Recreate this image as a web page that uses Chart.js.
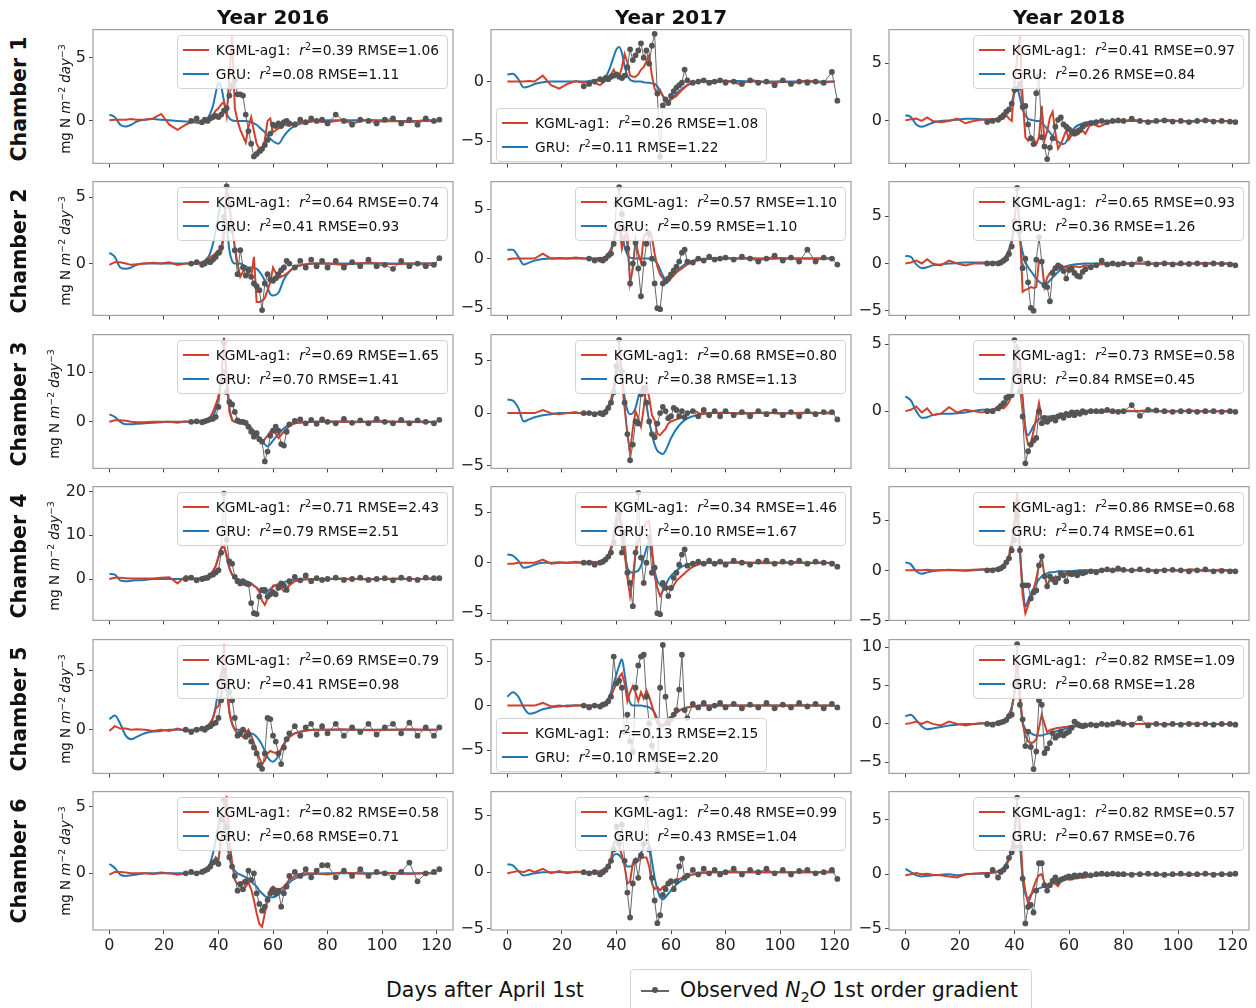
<!DOCTYPE html>
<html>
<head>
<meta charset="utf-8">
<script src="https://cdn.jsdelivr.net/npm/chart.js@4.4.1/dist/chart.umd.min.js"></script>
<style>
  body { margin: 0; background: #fff; font-family: "DejaVu Sans", sans-serif; color: #111; }
  #fig { position: relative; width: 1256px; height: 1008px; overflow: hidden; background: #fff; }
  #fig canvas { position: absolute; }
  .coltitle { position: absolute; top: 4px; width: 360px; text-align: center; font-weight: bold; font-size: 20px; line-height: 26px; }
  .rowlab { position: absolute; width: 139px; height: 26px; line-height: 26px; text-align: center;
            font-weight: bold; font-size: 20.5px; transform: rotate(-90deg); }
  .ylab { position: absolute; width: 139px; height: 18px; line-height: 18px; text-align: center;
          font-size: 13.4px; transform: rotate(-90deg); white-space: nowrap; }
  .ylab sup { font-size: 0.7em; vertical-align: 0.5em; line-height: 0; }
  .leg { position: absolute; z-index: 5; background: rgba(255,255,255,0.8); border: 1px solid #d4d4d4;
         border-radius: 4px; padding: 2px 8px 2px 5px; font-size: 13.8px; white-space: nowrap; }
  .leg .lr { height: 24px; line-height: 24px; }
  .leg .sw { display: inline-block; width: 26px; height: 2px; margin-right: 7px; vertical-align: middle; position: relative; top: -1px; }
  .leg sup { font-size: 0.7em; vertical-align: 0.5em; line-height: 0; }
  #xlab { position: absolute; left: 335px; top: 977px; width: 300px; text-align: center; font-size: 20.5px; line-height: 26px; }
  #blg { position: absolute; left: 630px; top: 969px; width: 400px; height: 60px; border: 1px solid #d4d4d4; border-radius: 4px; background: #fff; }
  #blg .ln { position: absolute; left: 10px; top: 20px; width: 28px; height: 1.5px; background: #666; }
  #blg .dot { position: absolute; left: 21px; top: 17px; width: 6px; height: 6px; border-radius: 3px; background: #555; }
  #blg .tx { position: absolute; left: 49px; top: 7px; font-size: 20.5px; line-height: 26px; white-space: nowrap; }
  #blg sub { font-size: 0.7em; line-height: 0; }
</style>
</head>
<body>
<div id="fig"></div>
<script>
// ---- data ----
const years = ['2016', '2017', '2018'];
const chambers = [1, 2, 3, 4, 5, 6];
const xTickVals = [0, 20, 40, 60, 80, 100, 120];

// days at which the model curves were read
const modelDays = [0, 2, 4, 6, 8, 10,
  13, 16, 19, 22, 25, 28, 31, 34,
  36, 37, 38, 39, 40, 41, 42, 43, 44, 45, 46, 47,
  48, 49, 50, 51, 52, 53, 54, 55, 56, 57, 58, 59, 60,
  62, 64, 66, 68, 71, 75, 80, 85, 90, 95, 100, 105, 110, 115, 120];
// days of the observations
const obsDays = [26, 28, 30, 32, 34,
  35, 36, 37, 38, 39, 40, 41, 42, 43, 44, 45, 46,
  47, 48, 49, 50, 51, 52, 53, 54, 55, 56, 57, 58,
  59, 60, 61, 62, 63, 64, 65, 66,
  68, 70, 72, 74, 76, 78, 80,
  83, 86, 89, 92, 95, 98, 101, 104, 107, 110, 113, 116, 119, 121];

// Chamber 1
const kgml_2016_c1 = [0.05, 0.1, 0.1, 0.1, 0.15, 0.1,
  0.1, 0.2, 0.55, -0.3, -0.7, -0.3, 0.0, -0.1,
  0.1, 0.3, 0.5, 0.8, 1.0, 1.3, 1.5, 0.4, 3.5, 6.7, 1.0, 0.0,
  -0.7, -1.2, -1.7, -0.5, 0.3, -0.8, -1.8, -2.2, -2.4, -1.5, 0.0, 0.2, -0.9,
  -0.6, -0.3, -0.4, -0.1, -0.2, 0.0, -0.1, 0.05, -0.15, 0.1, -0.05, 0.0, -0.1, 0.05, 0.0];
const gru_2016_c1 = [0.5, 0.3, -0.3, -0.45, -0.3, -0.05,
  0.1, 0.15, 0.1, 0.05, 0.0, -0.05, -0.1, -0.2,
  0.2, 0.6, 1.2, 2.2, 3.0, 2.7, 1.6, 0.6, 0.2, 0.05, 0.0, 0.0,
  0.0, 0.0, 0.0, -0.05, -0.1, -0.2, -0.3, -0.5, -0.7, -0.9, -1.2, -1.4, -1.6,
  -1.8, -1.2, -0.7, -0.4, -0.15, 0.0, 0.05, 0.05, 0.05, 0.05, 0.05, 0.0, 0.0, 0.0, 0.0];
const obs_2016_c1 = [null, null, 0.0, 0.2, -0.1,
  0.1, 0.0, 0.2, 0.3, 0.4, 0.3, 0.5, 0.8, 1.0, 2.0, 2.8, 3.2,
  2.1, 2.1, 2.0, 0.5, -0.8, -1.8, -2.8, -2.6, -2.4, -2.2, -1.9, -1.5,
  -1.0, -0.3, -0.4, -0.2, -0.4, -0.1, 0.0, -0.2,
  -0.3, 0.1, -0.1, 0.2, 0.0, 0.1, -0.2,
  0.5, 0.0, -0.3, 0.1, 0.0, -0.2, 0.1, 0.2, -0.2, 0.1, -0.3, 0.2, 0.0, 0.1];

const kgml_2017_c1 = [0.0, 0.0, 0.0, 0.0, 0.05, 0.0,
  0.5, -0.3, -0.6, -0.2, 0.05, -0.1, 0.0, -0.3,
  0.1, 0.3, 0.6, 1.0, 0.5, 0.4, 1.2, 2.3, 1.6, 0.5, 0.4, 0.4,
  0.6, 1.0, 1.2, 1.7, 2.2, 0.5, -0.6, -1.0, -0.7, -1.2, -1.6, -1.8, -1.5,
  -1.2, -0.7, -0.3, -0.1, 0.1, -0.1, 0.1, -0.2, 0.1, -0.1, 0.0, -0.1, 0.1, -0.1, 0.0];
const gru_2017_c1 = [0.6, 0.65, 0.2, -0.5, -0.4, -0.2,
  -0.05, 0.0, 0.0, 0.0, 0.0, 0.0, 0.1, 0.2,
  0.4, 0.8, 1.4, 2.1, 2.7, 2.9, 2.4, 1.3, 0.5, 0.15, 0.05, 0.0,
  0.0, 0.0, -0.05, -0.1, -0.1, -0.15, -0.2, -0.4, -0.8, -1.2, -1.5, -1.6, -1.5,
  -1.0, -0.6, -0.3, -0.1, 0.0, 0.05, 0.05, 0.05, 0.0, 0.0, 0.0, 0.0, 0.0, 0.0, 0.0];
const obs_2017_c1 = [null, -0.4, -0.2, 0.0, 0.2,
  0.1, 0.3, 0.2, 0.4, 0.5, 0.6, 0.4, 0.3, 0.5, 1.2, 2.7, 1.8,
  2.2, 2.6, 3.2, 2.0, 2.6, 1.5, 3.0, 4.0, -1.0, -6.3, -2.0, -1.5,
  -1.8, -1.2, -0.8, -0.5, -0.3, -0.1, 1.0, 0.1,
  -0.1, 0.0, 0.1, -0.1, 0.0, 0.1, -0.1,
  0.0, -0.2, 0.1, -0.1, 0.0, -0.3, 0.1, -0.2, 0.0, -0.1, 0.0, -0.1, 0.8, -1.6];

const kgml_2018_c1 = [0.05, 0.15, 0.2, 0.0, 0.3, 0.0,
  -0.1, 0.0, 0.2, -0.2, 0.0, 0.1, 0.15, 0.2,
  0.2, 0.5, 0.2, 0.0, 3.3, 5.5, 7.4, 2.0, -1.4, -1.7, -1.3, -1.5,
  -2.0, -1.4, 1.3, -1.7, -0.9, 0.3, 0.8, -1.0, -2.4, -2.0, -1.4, -0.8, -1.6,
  -0.8, -0.6, -1.1, -0.2, -0.5, -0.1, 0.0, 0.05, -0.1, 0.1, 0.0, -0.1, 0.1, -0.05, 0.0];
const gru_2018_c1 = [0.5, 0.35, -0.3, -0.5, -0.35, -0.15,
  0.0, 0.05, 0.1, 0.2, 0.2, 0.15, 0.1, 0.2,
  0.4, 0.7, 1.0, 1.6, 2.4, 2.8, 2.0, 1.0, 0.5, 0.2, 0.1, 0.05,
  0.0, 0.0, -0.2, -0.4, -0.7, -1.0, -1.3, -1.6, -1.8, -1.95, -2.0, -1.8, -1.3,
  -0.6, -0.3, -0.15, -0.05, 0.0, 0.0, 0.0, 0.0, 0.0, 0.0, 0.0, 0.0, 0.0, 0.0, 0.0];
const obs_2018_c1 = [null, null, -0.1, 0.0, 0.1,
  0.3, 0.5, 0.8, 1.0, 1.5, 2.7, 2.8, 3.2, 1.2, 1.3, -0.3, -1.5,
  -2.0, 2.4, 3.9, -1.4, -2.2, -3.3, -2.3, -1.5, -0.5, 0.1, 0.3, -0.3,
  -0.5, -0.7, -0.9, -1.1, -1.0, -0.8, -0.5, -0.3,
  -0.2, -0.1, 0.0, -0.1, 0.0, 0.05, 0.0,
  0.2, 0.0, -0.1, 0.0, 0.05, -0.05, 0.0, -0.1, 0.0, 0.05, -0.05, 0.0, -0.05, -0.1];

// Chamber 2
const kgml_2016_c2 = [-0.1, 0.1, 0.1, 0.0, -0.1, -0.05,
  0.0, 0.05, 0.0, 0.1, -0.1, 0.0, 0.0, 0.1,
  0.3, 0.5, 0.6, 0.8, 1.0, 0.8, 2.0, 5.7, 4.5, 2.5, 1.3, 0.0,
  -1.0, -0.6, -0.4, -0.8, -1.0, 0.5, -2.9, -2.9, -2.8, -2.6, -2.0, -1.4, -0.3,
  -1.1, -0.9, -0.6, -0.2, -0.1, 0.0, 0.0, -0.1, 0.0, 0.05, 0.0, -0.05, 0.0, 0.0, 0.0];
const gru_2016_c2 = [0.8, 0.5, -0.3, -0.4, -0.3, -0.1,
  0.0, 0.0, 0.0, 0.0, 0.0, 0.0, 0.0, 0.1,
  0.4, 0.8, 1.5, 2.5, 3.6, 4.5, 4.3, 3.0, 1.0, 0.2, 0.0, 0.0,
  0.0, -0.1, -0.2, -0.3, -0.3, -0.35, -0.4, -0.6, -0.9, -1.3, -1.8, -2.3, -2.4,
  -2.2, -1.2, -0.6, -0.3, -0.1, 0.0, 0.0, 0.0, 0.0, 0.0, 0.0, 0.0, 0.0, 0.0, 0.0];
const obs_2016_c2 = [null, null, 0.0, 0.1, -0.1,
  0.0, 0.2, 0.1, 0.3, 0.5, 0.8, 1.2, 3.5, 5.8, 4.3, 2.5, 1.0,
  -0.8, 1.0, -0.3, -0.9, -0.5, -1.0, -1.5, -1.7, -2.0, -3.5, -1.5, -0.8,
  -1.2, -1.3, -1.1, -0.8, -0.5, -0.3, 0.2, 0.0,
  -0.3, 0.2, -0.3, 0.3, -0.2, 0.2, -0.3,
  0.2, -0.3, 0.1, -0.2, 0.3, -0.2, -0.1, -0.4, 0.2, -0.2, 0.0, -0.2, -0.1, 0.4];

const kgml_2017_c2 = [-0.1, 0.0, 0.0, 0.0, 0.0, 0.0,
  0.5, 0.0, 0.05, 0.0, 0.1, 0.0, 0.0, 0.0,
  0.2, 0.5, 0.8, 1.6, 2.8, 3.4, 1.0, 2.2, 2.5, -2.5, -1.0, 1.9,
  0.5, -0.4, 2.2, 2.6, 2.8, 2.2, 0.5, -0.8, -1.6, -2.0, -2.3, -2.3, -2.0,
  -1.4, -1.0, -0.6, -0.3, -0.1, 0.0, 0.05, 0.0, 0.0, -0.05, 0.05, 0.0, 0.0, 0.0, 0.0];
const gru_2017_c2 = [0.9, 0.9, 0.2, -0.6, -0.4, -0.2,
  -0.05, 0.0, 0.0, 0.0, 0.0, 0.0, 0.0, 0.0,
  0.2, 0.5, 1.0, 1.8, 2.8, 3.1, 2.4, 1.2, 0.4, 0.1, 0.05, 0.0,
  0.0, 0.0, 0.0, 0.0, 0.0, 0.0, -0.2, -0.5, -1.1, -1.7, -2.1, -2.2, -1.9,
  -1.3, -0.8, -0.4, -0.2, -0.05, 0.0, 0.0, 0.0, 0.0, 0.0, 0.0, 0.0, 0.0, 0.0, 0.0];
const obs_2017_c2 = [null, null, 0.0, -0.2, -0.1,
  -0.2, 0.0, 0.3, 0.5, 1.5, 5.5, 7.2, 4.5, 3.0, 1.0, -2.5, -0.5,
  1.6, -1.0, -3.8, -0.5, 1.5, 2.5, 0.0, -2.5, -5.0, -5.1, -2.5, -2.3,
  -2.0, -1.6, -1.2, -0.8, -0.3, 0.6, 0.9, -0.3,
  -0.4, 0.0, -0.2, 0.2, -0.1, 0.0, 0.1,
  -0.1, 0.2, 0.0, -0.3, 0.0, 0.3, -0.2, 0.1, -0.3, 0.9, -0.3, 0.1, 0.0, -0.6];

const kgml_2018_c2 = [0.0, 0.1, 0.3, 0.0, 0.45, 0.0,
  -0.2, 0.3, 0.0, -0.2, 0.0, 0.0, 0.0, 0.1,
  0.3, 0.6, 1.2, 2.3, 4.5, 7.2, 3.5, -3.0, -2.8, -2.7, -2.5, -2.6,
  -2.5, 0.3, 0.2, -2.5, -1.5, -1.0, -0.7, -0.6, -0.5, -0.5, -0.4, -0.4, -0.4,
  -0.3, -0.4, -0.2, -0.3, -0.1, -0.05, 0.0, 0.0, -0.05, 0.05, -0.1, 0.0, 0.05, 0.0, 0.0];
const gru_2018_c2 = [0.8, 0.7, -0.1, -0.5, -0.4, -0.2,
  -0.1, 0.0, 0.05, 0.1, 0.1, 0.1, 0.1, 0.1,
  0.5, 0.9, 1.5, 2.5, 3.5, 3.4, 2.5, 1.2, 0.2, -0.4, -0.8, -1.2,
  -1.6, -1.9, -2.1, -2.2, -2.1, -1.8, -1.5, -1.2, -0.9, -0.6, -0.4, -0.3, -0.2,
  -0.1, -0.05, 0.0, 0.0, 0.0, 0.0, 0.0, 0.0, 0.0, 0.0, 0.0, 0.0, 0.0, 0.0, 0.0];
const obs_2018_c2 = [null, null, 0.0, 0.0, 0.0,
  0.1, 0.3, 0.5, 1.0, 1.8, 4.5, 8.0, 3.5, -0.5, 0.5, -2.0, -4.7,
  -5.0, 0.4, 2.8, 0.2, -2.3, -2.5, -4.0, -1.0, -0.5, -0.2, -0.4, -0.8,
  -1.6, -0.7, -0.6, -1.0, -1.3, -1.4, -0.9, -0.6,
  -0.4, -0.2, 0.3, -0.1, 0.0, -0.1, 0.0,
  -0.1, 0.45, 0.0, -0.1, 0.0, -0.1, 0.0, -0.05, 0.0, -0.1, 0.0, -0.05, -0.1, -0.2];

// Chamber 3
const kgml_2016_c3 = [0.0, 0.3, 0.3, 0.2, 0.0, -0.1,
  -0.1, 0.0, 0.0, 0.0, -0.2, 0.1, -0.1, 0.3,
  0.5, 1.0, 2.0, 3.5, 5.0, 8.0, 17.0, 10.0, 2.0, 0.3, 0.0, 0.0,
  0.0, 0.0, -0.5, -1.3, -1.3, -2.5, -3.0, -3.8, -4.2, -3.5, -2.8, -2.0, -1.5,
  -3.3, -2.0, -0.8, -0.3, -0.1, 0.0, 0.1, 0.0, -0.1, 0.0, 0.1, 0.0, 0.0, -0.1, 0.0];
const gru_2016_c3 = [1.5, 1.0, 0.0, -0.5, -0.5, -0.4,
  -0.3, -0.2, -0.1, 0.0, 0.0, 0.0, 0.0, 0.1,
  0.3, 0.6, 1.2, 2.5, 5.0, 8.5, 10.5, 8.0, 3.0, 0.5, 0.0, -0.2,
  -0.3, -0.4, -0.5, -0.8, -1.2, -1.8, -2.5, -3.2, -4.0, -4.5, -5.0, -4.5, -3.8,
  -2.5, -1.3, -0.6, -0.3, -0.1, 0.0, 0.0, 0.0, 0.0, 0.0, 0.0, 0.0, 0.0, 0.0, 0.0];
const obs_2016_c3 = [null, null, 0.0, 0.1, -0.1,
  0.1, 0.3, 0.5, 0.6, 1.0, 3.0, 8.0, 16.0, 6.0, 4.0, 3.5, 2.0,
  0.3, 0.0, 0.0, -0.2, -1.0, -2.0, -3.0, -2.3, -3.5, -4.0, -8.0, -6.0,
  -2.8, -1.8, -1.0, -1.8, -4.5, -4.8, -2.0, -0.5,
  0.2, 0.5, -0.3, 0.4, -0.4, 0.5, 0.0,
  -0.3, 0.6, -0.2, 0.3, -0.3, 0.6, 0.0, -0.3, 0.4, -0.3, 0.3, 0.0, -0.3, 0.4];

const kgml_2017_c3 = [0.0, 0.0, 0.0, 0.0, 0.0, 0.0,
  0.3, 0.0, -0.1, 0.0, 0.1, -0.1, 0.0, 0.0,
  0.3, 0.7, 1.3, 2.5, 4.5, 6.0, 3.0, 0.5, -2.0, -3.6, -1.5, 0.2,
  -0.5, -1.3, 0.5, 2.7, 1.5, -0.2, -0.7, -2.0, -2.1, -1.8, -1.5, -1.0, -0.8,
  -0.6, -0.4, -0.1, 0.3, -0.1, 0.0, 0.05, -0.05, 0.0, 0.05, -0.05, 0.0, 0.05, 0.0, -0.05];
const gru_2017_c3 = [1.3, 1.2, 0.5, -0.8, -0.6, -0.4,
  -0.2, -0.1, 0.0, 0.0, 0.0, 0.0, 0.0, 0.0,
  0.2, 0.5, 1.0, 2.0, 3.5, 4.5, 3.5, 1.5, 0.3, -0.1, 0.0, 0.5,
  1.5, 2.2, 2.0, 0.8, -0.8, -2.0, -3.0, -3.6, -3.8, -3.9, -3.6, -3.0, -2.4,
  -1.5, -0.9, -0.5, -0.3, -0.1, 0.0, 0.0, 0.0, 0.0, 0.0, 0.0, 0.0, 0.0, 0.0, 0.0];
const obs_2017_c3 = [null, 0.0, 0.0, -0.1, 0.0,
  -0.1, 0.1, 0.5, 1.0, 2.0, 4.5, 7.0, 4.0, 1.0, -2.0, -4.5, -3.0,
  -0.8, -1.0, 1.8, 2.4, 1.0, -0.8, -2.0, -2.3, -1.0, 0.0, 0.6, 0.2,
  -0.5, -0.3, 0.5, 0.3, -0.3, 0.2, -0.4, 0.0,
  0.2, -0.3, 0.3, -0.2, 0.2, -0.3, 0.2,
  -0.2, 0.1, -0.3, 0.2, -0.1, 0.2, -0.2, 0.1, -0.3, 0.2, -0.1, 0.1, 0.1, -0.6];

const kgml_2018_c3 = [0.0, 0.1, 0.35, -0.1, 0.2, -0.3,
  -0.2, 0.3, -0.1, 0.1, 0.0, -0.1, 0.0, 0.3,
  0.2, 0.4, 0.7, 1.2, 3.0, 4.5, 3.8, 0.5, -1.5, -2.5, -2.4, -1.5,
  -0.5, 0.6, -0.5, -0.9, -0.8, -0.6, -0.5, -0.4, -0.3, -0.3, -0.2, -0.2, -0.2,
  0.0, -0.1, 0.0, 0.1, -0.1, 0.0, 0.05, 0.0, 0.1, -0.05, 0.0, 0.05, -0.05, 0.0, 0.0];
const gru_2018_c3 = [1.1, 0.8, 0.0, -0.5, -0.45, -0.3,
  -0.2, -0.2, -0.15, -0.1, 0.0, 0.1, 0.1, 0.2,
  0.4, 0.7, 1.1, 1.8, 3.5, 5.0, 3.5, 1.0, -1.2, -1.8, -1.5, -1.1,
  -0.8, -0.6, -0.5, -0.45, -0.4, -0.4, -0.35, -0.35, -0.3, -0.3, -0.3, -0.25, -0.25,
  -0.2, -0.15, -0.1, -0.05, 0.0, 0.0, 0.0, 0.0, 0.0, 0.0, 0.0, 0.0, 0.0, 0.0, 0.0];
const obs_2018_c3 = [null, null, 0.0, 0.0, 0.2,
  0.4, 0.6, 1.0, 1.1, 1.2, 5.3, 3.0, 1.5, -0.4, -3.9, -3.0, -2.5,
  -2.2, -2.0, 0.0, -0.9, -0.5, -0.8, -0.6, -0.5, -0.7, -0.4, -0.3, -0.5,
  -0.2, -0.3, -0.1, -0.3, -0.1, -0.2, 0.0, -0.1,
  0.0, 0.0, 0.0, 0.1, 0.0, -0.05, 0.0,
  0.45, -0.35, 0.1, 0.05, 0.0, -0.05, 0.0, 0.0, -0.05, 0.0, 0.0, -0.05, 0.0, -0.05];

// Chamber 4
const kgml_2016_c4 = [0.0, 0.3, 0.3, 0.2, 0.1, 0.1,
  0.1, 0.1, 0.3, 0.4, -1.0, 0.7, 0.0, 0.2,
  0.5, 1.0, 1.8, 3.0, 5.0, 7.0, 7.6, 5.5, 2.5, 1.0, 0.3, -0.3,
  -0.5, -0.8, -0.7, -0.9, -1.2, -1.6, -2.0, -3.0, -5.0, -5.9, -4.5, -3.0, -1.5,
  -1.2, -2.8, -1.5, -0.5, -0.1, 0.0, 0.0, 0.1, 0.0, -0.1, 0.0, 0.1, 0.0, 0.0, 0.0];
const gru_2016_c4 = [1.2, 1.0, -0.3, -0.5, -0.4, -0.3,
  -0.2, 0.0, 0.0, 0.0, 0.0, 0.0, 0.1, 0.2,
  0.5, 1.0, 1.8, 3.0, 5.0, 7.0, 7.3, 5.0, 2.5, 1.0, 0.3, 0.0,
  -0.2, -0.3, -0.5, -0.7, -1.0, -1.5, -2.0, -2.6, -3.0, -3.2, -2.8, -2.3, -1.8,
  -1.2, -0.7, -0.4, -0.2, -0.1, 0.0, 0.0, 0.0, 0.0, 0.0, 0.0, 0.0, 0.0, 0.0, 0.0];
const obs_2016_c4 = [null, 0.0, 0.3, -0.3, 0.0,
  0.2, 0.3, 0.8, 1.0, 1.5, 2.0, 6.0, 19.5, 9.0, 4.0, 3.5, 0.5,
  -0.5, -1.0, -0.5, -1.0, -1.2, -5.5, -7.8, -8.0, -4.0, -2.5, -2.5, -4.0,
  -3.5, -3.0, -3.5, -2.0, -1.0, -1.5, -2.5, -0.5,
  0.5, -0.3, 0.8, -0.5, 0.2, -0.2, 0.0,
  0.3, -0.2, 0.0, 0.3, -0.2, 0.0, 0.2, -0.3, 0.3, 0.0, -0.2, 0.3, 0.2, 0.2];

const kgml_2017_c4 = [-0.1, -0.1, 0.0, 0.0, 0.0, 0.0,
  0.3, -0.1, 0.0, 0.0, 0.1, 0.0, 0.1, 0.0,
  0.3, 0.7, 1.5, 2.8, 4.5, 5.0, 3.5, 1.0, -1.5, -3.3, -1.5, 1.0,
  2.0, 3.0, 3.5, 4.0, 4.1, 1.5, -1.3, -2.5, -3.3, -2.8, -2.2, -2.5, -2.7,
  -1.8, -1.3, -0.8, -0.4, -0.1, 0.0, 0.0, 0.05, 0.0, -0.05, 0.0, 0.05, -0.05, 0.0, -0.05];
const gru_2017_c4 = [0.8, 0.7, 0.2, -0.5, -0.4, -0.2,
  0.0, 0.0, 0.05, 0.0, 0.0, 0.0, 0.05, 0.1,
  0.3, 0.7, 1.5, 2.5, 3.8, 4.4, 3.0, 1.0, -0.5, -0.9, -1.0, -0.9,
  -0.8, -0.3, 0.5, 1.4, 2.1, 0.8, -0.8, -1.8, -2.2, -2.4, -2.2, -1.7, -1.3,
  -0.8, -0.4, -0.2, -0.05, 0.0, 0.0, 0.0, 0.0, 0.0, 0.0, 0.0, 0.0, 0.0, 0.0, 0.0];
const obs_2017_c4 = [null, 0.0, 0.0, -0.2, 0.0,
  0.1, 0.3, 0.6, 1.0, 2.0, 3.5, 5.0, 1.0, 3.0, -1.0, -2.0, -4.3,
  1.0, 6.9, 0.5, -2.0, 0.0, 2.5, -1.0, -0.5, -5.0, -5.1, -2.0, -2.5,
  -3.3, -2.5, -1.5, -1.0, -0.2, 0.8, 1.3, -0.3,
  -0.1, 0.1, -0.1, 0.2, -0.1, 0.1, -0.2,
  0.2, 0.0, -0.2, 0.1, 0.2, -0.1, 0.1, 0.0, 0.2, -0.1, 0.1, 0.0, -0.1, -0.4];

const kgml_2018_c4 = [0.0, 0.0, 0.0, 0.0, 0.05, 0.0,
  0.0, 0.05, 0.0, 0.0, 0.05, 0.1, 0.1, 0.2,
  0.5, 0.9, 1.5, 3.0, 5.0, 7.8, 2.0, -2.5, -4.3, -3.5, -2.8, -2.0,
  -0.8, 0.5, 1.3, -0.5, -1.5, -1.0, -0.9, -0.6, -0.8, -0.5, -0.6, -0.2, -0.1,
  -0.2, -0.15, -0.2, -0.1, 0.0, -0.05, 0.0, 0.0, -0.05, 0.05, -0.05, 0.1, -0.1, 0.05, 0.0];
const gru_2018_c4 = [0.8, 0.6, -0.1, -0.35, -0.2, -0.1,
  0.0, 0.0, 0.0, -0.05, 0.0, 0.05, 0.1, 0.2,
  0.4, 0.8, 1.3, 2.5, 4.5, 6.0, 2.0, -1.5, -3.6, -3.0, -2.4, -1.8,
  -1.3, -0.9, -0.6, -0.4, -0.3, -0.2, -0.2, -0.15, -0.1, -0.1, -0.1, -0.1, -0.1,
  -0.05, 0.0, 0.0, 0.0, 0.0, 0.0, 0.0, 0.0, 0.0, 0.0, 0.0, 0.0, 0.0, 0.0, 0.0];
const obs_2018_c4 = [null, null, 0.0, 0.0, 0.1,
  0.2, 0.4, 0.8, 1.2, 2.0, 3.0, 5.5, 2.0, -1.5, -1.5, -1.5, -2.8,
  -2.2, -2.0, 0.5, 1.4, -0.6, -1.6, -0.6, -0.9, -1.2, -0.8, -0.3, -0.5,
  -1.1, -0.3, -0.4, -0.3, -0.5, -0.2, -0.3, -0.2,
  -0.1, -0.2, 0.0, 0.1, 0.0, 0.2, 0.05,
  0.0, 0.1, 0.0, -0.1, 0.0, 0.05, 0.0, -0.1, 0.0, 0.1, -0.1, -0.05, -0.1, -0.1];

// Chamber 5
const kgml_2016_c5 = [-0.1, 0.3, 0.1, 0.1, 0.0, 0.05,
  0.0, -0.1, 0.0, -0.1, 0.1, -0.1, 0.0, 0.1,
  0.3, 0.6, 1.0, 1.8, 2.0, 3.0, 7.2, 4.5, 1.5, 0.5, 0.0, -0.4,
  -0.5, -0.6, -0.3, 0.0, -0.5, -1.1, -1.8, -2.4, -2.9, -2.6, -2.0, -1.8, -1.9,
  -2.0, -1.2, -0.6, -0.3, -0.1, 0.0, 0.0, 0.05, 0.0, -0.05, 0.0, 0.0, 0.05, 0.0, 0.0];
const gru_2016_c5 = [0.9, 1.2, 0.5, -0.5, -0.8, -0.6,
  -0.3, -0.15, -0.1, 0.0, 0.0, 0.0, 0.0, 0.0,
  0.2, 0.5, 1.0, 2.0, 3.5, 4.8, 5.0, 3.5, 1.5, 0.5, 0.1, 0.0,
  0.0, -0.1, -0.1, -0.2, -0.3, -0.4, -0.6, -0.9, -1.3, -1.8, -2.3, -2.6, -2.7,
  -2.2, -1.2, -0.6, -0.3, -0.1, 0.0, 0.0, 0.0, 0.0, 0.0, 0.0, 0.0, 0.0, 0.0, 0.0];
const obs_2016_c5 = [null, 0.0, -0.2, 0.0, 0.1,
  0.0, 0.2, 0.3, 0.5, 0.6, 1.0, 2.5, 5.0, 3.5, 3.2, 2.5, 1.0,
  -0.5, -0.3, 0.0, -0.6, -0.4, -1.0, -1.5, -2.0, -3.0, -3.3, -2.0, 1.0,
  0.9, -0.5, -1.0, -2.0, -2.9, -1.5, -0.8, -0.3,
  0.3, -0.5, 0.2, 0.5, -0.4, 0.3, -0.3,
  0.5, -0.5, 0.2, -0.2, 0.5, -0.4, 0.2, 0.5, -0.3, 0.6, -0.5, 0.2, -0.5, 0.2];

const kgml_2017_c5 = [0.0, 0.0, 0.0, 0.0, 0.0, 0.0,
  0.3, -0.1, 0.0, -0.1, 0.05, 0.0, 0.0, 0.0,
  0.2, 0.5, 1.0, 1.8, 2.5, 3.2, 3.6, 2.5, 0.5, 1.5, 2.2, 1.5,
  0.5, 1.5, 0.8, 1.7, 1.0, 0.0, -1.0, -2.0, -2.4, -2.2, -1.8, -1.5, -1.3,
  -0.8, -0.4, -0.2, -0.1, 0.0, 0.0, 0.0, 0.0, 0.0, 0.0, 0.0, 0.0, 0.0, 0.0, 0.0];
const gru_2017_c5 = [1.0, 1.5, 1.0, -0.2, -0.9, -0.8,
  -0.4, -0.2, -0.1, 0.0, 0.0, 0.0, 0.0, 0.0,
  0.3, 0.8, 1.5, 2.5, 3.5, 4.5, 5.2, 3.5, 1.5, 0.3, 0.0, 0.0,
  0.0, 0.0, -0.05, -0.1, -0.2, -0.4, -0.8, -1.5, -2.0, -2.3, -2.1, -1.8, -1.4,
  -0.8, -0.4, -0.2, -0.1, 0.0, 0.0, 0.0, 0.0, 0.0, 0.0, 0.0, 0.0, 0.0, 0.0, 0.0];
const obs_2017_c5 = [null, 0.0, -0.2, 0.0, -0.1,
  0.1, 0.2, 0.5, 1.0, 5.5, 2.5, 2.8, 2.0, -3.0, -1.0, -4.0, -5.2,
  2.0, 4.5, 5.5, 5.7, 1.0, -2.0, -4.5, -6.0, -7.3, 2.0, 6.8, 1.0,
  -2.0, -1.5, -1.0, -0.5, 1.8, 5.7, -0.5, -1.4,
  0.2, -0.2, 0.3, -0.3, 0.0, 0.3, -0.2,
  0.2, -0.3, 0.1, -0.2, 0.3, -0.3, 0.1, -0.2, 0.3, -0.1, 0.2, -0.3, 0.2, -0.2];

const kgml_2018_c5 = [0.0, 0.1, 0.3, 0.0, 0.3, 0.0,
  -0.2, 0.3, 0.0, -0.2, 0.0, 0.1, 0.0, 0.1,
  0.3, 0.6, 1.0, 2.0, 4.0, 8.5, 4.0, 0.0, -1.5, -2.3, -2.5, -2.4,
  -2.0, -0.5, 1.2, 0.0, -1.1, -0.8, -0.7, -0.6, -0.5, -0.5, -0.4, -0.4, -0.3,
  -0.3, -0.3, -0.2, -0.1, -0.1, 0.0, -0.05, 0.0, 0.05, -0.1, 0.0, 0.05, 0.0, -0.05, 0.0];
const gru_2018_c5 = [1.0, 1.2, 0.5, -0.3, -0.7, -0.6,
  -0.4, -0.2, -0.1, 0.0, 0.0, 0.05, 0.1, 0.2,
  0.4, 0.8, 1.3, 2.2, 4.0, 6.0, 3.0, 0.3, -0.7, -1.0, -1.2, -1.4,
  -1.5, -1.5, -1.5, -1.4, -1.3, -1.2, -1.1, -1.0, -0.9, -0.8, -0.7, -0.6, -0.5,
  -0.35, -0.25, -0.15, -0.1, 0.0, 0.0, 0.0, 0.0, 0.0, 0.0, 0.0, 0.0, 0.0, 0.0, 0.0];
const obs_2018_c5 = [null, null, 0.0, -0.1, 0.1,
  0.2, 0.3, 0.5, 1.0, 1.2, 5.0, 10.4, 2.5, 0.6, -2.9, -1.0, -3.0,
  -5.9, -3.6, 3.1, 2.5, -3.8, -3.2, -2.5, -1.2, -1.8, -1.5, -1.0, -1.5,
  -1.2, -1.0, -0.5, 0.3, 0.0, -0.2, -0.3, -0.2,
  -0.1, -0.2, 0.0, -0.1, 0.0, 0.2, 0.0,
  -0.1, 0.75, -0.2, 0.0, -0.1, 0.0, -0.1, 0.0, -0.05, 0.0, -0.1, 0.0, 0.0, -0.1];

// Chamber 6
const kgml_2016_c6 = [-0.1, 0.1, 0.1, 0.05, 0.0, 0.0,
  0.0, -0.05, 0.0, 0.0, -0.1, 0.0, 0.0, 0.1,
  0.3, 0.5, 0.8, 1.2, 1.0, 2.5, 3.5, 5.8, 2.5, 0.8, -0.5, -0.8,
  -1.0, -0.6, -1.0, -0.7, -1.2, -2.0, -3.0, -3.8, -4.0, -3.0, -2.0, -1.2, -1.0,
  -1.3, -1.0, -0.5, -0.2, 0.0, 0.0, -0.1, 0.05, 0.0, -0.05, 0.05, 0.0, -0.05, 0.0, 0.0];
const gru_2016_c6 = [0.7, 0.4, -0.1, -0.2, -0.15, -0.1,
  0.0, 0.0, 0.05, 0.0, 0.0, 0.0, 0.0, 0.1,
  0.4, 0.8, 1.5, 2.5, 3.6, 4.3, 4.0, 2.5, 1.2, 0.5, 0.2, 0.0,
  -0.1, -0.2, -0.3, -0.4, -0.6, -0.8, -1.0, -1.3, -1.5, -1.7, -1.8, -1.8, -1.8,
  -1.6, -1.2, -0.7, -0.4, -0.15, -0.05, 0.0, 0.0, 0.0, 0.0, 0.0, 0.0, 0.0, 0.0, 0.0];
const obs_2016_c6 = [null, 0.0, 0.1, 0.0, 0.1,
  0.2, 0.3, 0.5, 0.8, 0.9, 0.7, 4.0, 5.5, 3.5, 1.2, 0.5, -0.2,
  -1.3, -0.8, -1.2, -0.6, 0.2, -0.5, 0.0, -1.5, -2.3, -2.8, -2.5, -2.0,
  -1.5, -1.2, -1.5, -1.3, -2.5, -1.5, -1.0, -0.2,
  0.1, -0.2, 0.3, -0.3, 0.2, 0.6, 0.6,
  -0.3, 0.2, -0.2, 0.3, -0.2, 0.1, 0.0, -0.3, 0.1, 0.8, -0.6, 0.0, 0.1, 0.3];

const kgml_2017_c6 = [-0.1, 0.0, 0.1, 0.0, 0.2, 0.0,
  0.3, -0.1, 0.1, -0.1, 0.05, 0.0, 0.0, 0.1,
  0.3, 0.6, 1.2, 2.5, 2.8, 2.2, 1.5, 0.5, -1.0, -0.8, 0.8, 1.2,
  1.0, 1.2, 1.3, 1.3, 0.5, -1.0, -1.5, -1.3, -1.6, -1.3, -1.2, -1.1, -1.0,
  -0.7, -0.5, -0.3, -0.2, -0.1, 0.0, 0.0, 0.0, 0.0, 0.0, 0.0, 0.0, 0.0, 0.0, 0.0];
const gru_2017_c6 = [0.7, 0.6, 0.1, -0.3, -0.2, -0.1,
  0.0, 0.0, 0.0, 0.0, 0.0, 0.0, 0.0, 0.0,
  0.2, 0.5, 1.0, 1.5, 1.6, 1.5, 1.2, 0.8, 0.5, 0.5, 0.6, 0.9,
  1.2, 1.7, 2.2, 2.6, 2.3, 1.0, -0.5, -1.5, -2.2, -2.4, -2.2, -1.9, -1.6,
  -1.1, -0.7, -0.4, -0.2, -0.05, 0.0, 0.0, 0.0, 0.0, 0.0, 0.0, 0.0, 0.0, 0.0, 0.0];
const obs_2017_c6 = [null, 0.0, -0.1, 0.0, -0.2,
  0.0, 0.2, 0.5, 1.0, 2.0, 4.0, 2.5, 4.2, 1.0, -1.8, -4.0, -1.0,
  1.0, -0.5, 1.5, 2.5, 6.5, 2.0, -0.5, -2.5, -4.5, -3.8, -2.0, -1.5,
  -1.0, -0.8, -1.5, -0.8, 0.5, 1.2, -0.5, -0.3,
  0.2, -0.2, 0.3, -0.1, 0.2, -0.2, 0.0,
  0.3, -0.2, 0.2, 0.0, 0.3, -0.1, 0.2, -0.2, 0.1, 0.2, -0.1, 0.0, 0.2, -0.6];

const kgml_2018_c6 = [-0.1, 0.0, 0.1, 0.0, 0.05, -0.05,
  -0.1, -0.2, -0.3, 0.0, 0.05, 0.1, 0.1, 0.2,
  0.5, 0.8, 1.3, 2.0, 3.5, 6.2, 4.5, 0.0, -1.5, -2.7, -2.0, -1.2,
  -0.5, -0.1, 0.0, -0.8, -1.2, -1.0, -0.8, -0.9, -1.1, -0.6, -0.5, -0.4, -0.5,
  -0.4, -0.3, -0.3, -0.15, -0.1, 0.0, -0.05, 0.05, 0.0, -0.1, 0.0, -0.05, 0.05, 0.0, 0.0];
const gru_2018_c6 = [0.5, 0.2, -0.1, -0.2, -0.15, -0.1,
  -0.05, 0.0, -0.1, 0.0, 0.05, 0.05, 0.1, 0.3,
  0.6, 1.0, 1.5, 2.5, 4.0, 6.5, 3.0, -0.5, -1.8, -2.2, -1.9, -1.6,
  -1.4, -1.3, -1.2, -1.1, -1.0, -0.9, -0.8, -0.7, -0.6, -0.55, -0.5, -0.45, -0.4,
  -0.3, -0.2, -0.15, -0.1, -0.05, 0.0, 0.0, 0.0, 0.0, 0.0, 0.0, 0.0, 0.0, 0.0, 0.0];
const obs_2018_c6 = [null, null, -0.1, 0.4, -0.3,
  0.2, 0.4, 0.7, 1.5, 2.0, 2.5, 7.0, 2.5, -0.4, -4.5, -3.0, -2.8,
  -3.5, -1.5, 1.0, 1.0, -1.0, -1.5, -1.0, -0.6, -0.3, -0.7, -0.5, -0.4,
  -0.3, -0.2, -0.3, -0.1, -0.2, -0.1, -0.15, 0.0,
  -0.1, 0.0, 0.05, 0.0, 0.05, 0.0, 0.0,
  -0.05, 0.0, 0.05, 0.0, -0.05, 0.0, 0.05, 0.0, 0.0, 0.05, -0.05, 0.0, 0.0, 0.05];

// scores shown in the legends (rows = chambers, columns = years)
const kgmlR2   = [['0.39', '0.26', '0.41'], ['0.64', '0.57', '0.65'], ['0.69', '0.68', '0.73'],
                  ['0.71', '0.34', '0.86'], ['0.69', '0.13', '0.82'], ['0.82', '0.48', '0.82']];
const kgmlRmse = [['1.06', '1.08', '0.97'], ['0.74', '1.10', '0.93'], ['1.65', '0.80', '0.58'],
                  ['2.43', '1.46', '0.68'], ['0.79', '2.15', '1.09'], ['0.58', '0.99', '0.57']];
const gruR2    = [['0.08', '0.11', '0.26'], ['0.41', '0.59', '0.36'], ['0.70', '0.38', '0.84'],
                  ['0.79', '0.10', '0.74'], ['0.41', '0.10', '0.68'], ['0.68', '0.43', '0.67']];
const gruRmse  = [['1.11', '1.22', '0.84'], ['0.93', '1.10', '1.26'], ['1.41', '1.13', '0.45'],
                  ['2.51', '1.67', '0.61'], ['0.98', '2.20', '1.28'], ['0.71', '1.04', '0.76']];

// y tick labels per panel
const yTickVals = [
  [[0, 5], [-5, 0], [0, 5]],
  [[0, 5], [-5, 0, 5], [-5, 0, 5]],
  [[0, 10], [-5, 0, 5], [0, 5]],
  [[0, 10, 20], [-5, 0, 5], [-5, 0, 5]],
  [[0, 5], [-5, 0, 5], [-5, 0, 5, 10]],
  [[0, 5], [-5, 0, 5], [-5, 0, 5]]
];

const panelSeries = [
  [[kgml_2016_c1, gru_2016_c1, obs_2016_c1], [kgml_2017_c1, gru_2017_c1, obs_2017_c1], [kgml_2018_c1, gru_2018_c1, obs_2018_c1]],
  [[kgml_2016_c2, gru_2016_c2, obs_2016_c2], [kgml_2017_c2, gru_2017_c2, obs_2017_c2], [kgml_2018_c2, gru_2018_c2, obs_2018_c2]],
  [[kgml_2016_c3, gru_2016_c3, obs_2016_c3], [kgml_2017_c3, gru_2017_c3, obs_2017_c3], [kgml_2018_c3, gru_2018_c3, obs_2018_c3]],
  [[kgml_2016_c4, gru_2016_c4, obs_2016_c4], [kgml_2017_c4, gru_2017_c4, obs_2017_c4], [kgml_2018_c4, gru_2018_c4, obs_2018_c4]],
  [[kgml_2016_c5, gru_2016_c5, obs_2016_c5], [kgml_2017_c5, gru_2017_c5, obs_2017_c5], [kgml_2018_c5, gru_2018_c5, obs_2018_c5]],
  [[kgml_2016_c6, gru_2016_c6, obs_2016_c6], [kgml_2017_c6, gru_2017_c6, obs_2017_c6], [kgml_2018_c6, gru_2018_c6, obs_2018_c6]]
];

// ---- layout ----
const colLeft = [93, 491, 889];
const rowTop = [29, 181, 334, 486, 639, 791];
const plotW = 360, plotH = 139;
const padL = 44, padT = 12, padR = 6;
const yLimits = [
  [[-3.35, 7.2], [-6.85, 4.35], [-3.67, 7.9]],
  [[-3.9, 6.16], [-5.73, 7.77], [-5.5, 8.67]],
  [[-9.4, 17.6], [-5.28, 7.5], [-4.28, 5.72]],
  [[-9.45, 21.1], [-5.71, 7.52], [-5.0, 8.37]],
  [[-3.69, 7.62], [-7.6, 7.4], [-6.46, 11.0]],
  [[-4.25, 6.12], [-5.1, 7.1], [-5.1, 7.55]]
];
// x centre of the rotated y-axis label (further left where tick labels have two digits)
const yLabelX = [65, 65, 54, 54, 65, 65];
const lowerLeftLegend = { '0,1': true, '4,1': true };

const RED = '#d1402b', BLUE = '#1f77b4', OBS = '#555555';

Chart.defaults.font.family = '"DejaVu Sans", sans-serif';

const fig = document.getElementById('fig');

const framePlugin = {
  id: 'frame',
  afterDatasetsDraw(chart) {
    const a = chart.chartArea, ctx = chart.ctx;
    ctx.save();
    ctx.strokeStyle = '#a0a0a0';
    ctx.lineWidth = 1.2;
    ctx.strokeRect(a.left, a.top, a.right - a.left, a.bottom - a.top);
    ctx.restore();
  }
};

const minus = v => (v < 0 ? '\u2212' + Math.abs(v) : String(v));
const toPts = (days, vals) => days.map((d, k) => ({ x: d, y: vals[k] })).filter(p => p.y !== null);

function addDiv(cls, html, style) {
  const d = document.createElement('div');
  d.className = cls;
  d.innerHTML = html;
  Object.assign(d.style, style);
  fig.appendChild(d);
  return d;
}

function legendRow(color, name, r2, rmse) {
  return `<div class="lr"><span class="sw" style="background:${color}"></span>${name}:&nbsp; <i>r</i><sup>2</sup>=${r2} RMSE=${rmse}</div>`;
}

function makePanel(r, c) {
  const [kg, gr, ob] = panelSeries[r][c];
  const bottomRow = r === chambers.length - 1;
  const extra = bottomRow ? 32 : 8;
  const cv = document.createElement('canvas');
  cv.width = padL + plotW + padR;
  cv.height = padT + plotH + extra;
  cv.style.left = (colLeft[c] - padL) + 'px';
  cv.style.top = (rowTop[r] - padT) + 'px';
  fig.appendChild(cv);

  new Chart(cv, {
    type: 'line',
    data: {
      datasets: [
        { label: 'Observed', data: toPts(obsDays, ob), borderColor: '#666', borderWidth: 1,
          pointRadius: 2.9, pointBackgroundColor: OBS, pointBorderWidth: 0, order: 0 },
        { label: 'KGML-ag1', data: toPts(modelDays, kg), borderColor: RED, borderWidth: 2,
          pointRadius: 0, order: 1 },
        { label: 'GRU', data: toPts(modelDays, gr), borderColor: BLUE, borderWidth: 2,
          pointRadius: 0, cubicInterpolationMode: 'monotone', order: 2 }
      ]
    },
    options: {
      responsive: false,
      animation: false,
      devicePixelRatio: 1,
      layout: { padding: { left: 0, top: padT, right: padR, bottom: 0 } },
      plugins: { legend: { display: false }, tooltip: { enabled: false } },
      scales: {
        x: {
          type: 'linear', min: -6, max: 126,
          afterBuildTicks: s => { s.ticks = xTickVals.map(v => ({ value: v })); },
          afterFit: s => { s.height = extra; },
          grid: { drawOnChartArea: false, drawTicks: true, tickLength: 4, color: '#444' },
          border: { display: false },
          ticks: { display: bottomRow, font: { size: 16 }, color: '#222', padding: 2, maxRotation: 0 }
        },
        y: {
          min: yLimits[r][c][0], max: yLimits[r][c][1],
          afterBuildTicks: s => { s.ticks = yTickVals[r][c].map(v => ({ value: v })); },
          afterFit: s => { s.width = padL; },
          grid: { drawOnChartArea: false, drawTicks: true, tickLength: 4, color: '#444' },
          border: { display: false },
          ticks: { font: { size: 16 }, color: '#222', padding: 3, callback: v => minus(v) }
        }
      }
    },
    plugins: [framePlugin]
  });

  // legend box
  const html = legendRow(RED, 'KGML-ag1', kgmlR2[r][c], kgmlRmse[r][c]) +
               legendRow(BLUE, 'GRU', gruR2[r][c], gruRmse[r][c]);
  const plotRight = colLeft[c] + plotW, plotBottom = rowTop[r] + plotH;
  if (lowerLeftLegend[r + ',' + c]) {
    addDiv('leg', html, { left: (colLeft[c] + 5) + 'px', bottom: (1008 - plotBottom + 6) + 'px' });
  } else {
    addDiv('leg', html, { right: (1256 - plotRight + 5) + 'px', top: (rowTop[r] + 6) + 'px' });
  }
}

for (let r = 0; r < chambers.length; r++) {
  for (let c = 0; c < years.length; c++) makePanel(r, c);
}

// column titles
years.forEach((y, c) => addDiv('coltitle', 'Year ' + y, { left: colLeft[c] + 'px' }));

// row labels and y-axis labels
chambers.forEach((ch, r) => {
  const cy = rowTop[r] + plotH / 2;
  addDiv('rowlab', 'Chamber ' + ch, { left: (18 - plotH / 2) + 'px', top: (cy - 13) + 'px' });
  addDiv('ylab', 'mg N <i>m</i><sup>\u22122</sup> <i>day</i><sup>\u22123</sup>',
         { left: (yLabelX[r] - plotH / 2) + 'px', top: (cy - 9) + 'px' });
});

// bottom axis label and figure legend
addDiv('', 'Days after April 1st', {}).id = 'xlab';
addDiv('', '<span class="ln"></span><span class="dot"></span><span class="tx">Observed <i>N</i><sub>2</sub><i>O</i> 1st order gradient</span>', {}).id = 'blg';
</script>
</body>
</html>
